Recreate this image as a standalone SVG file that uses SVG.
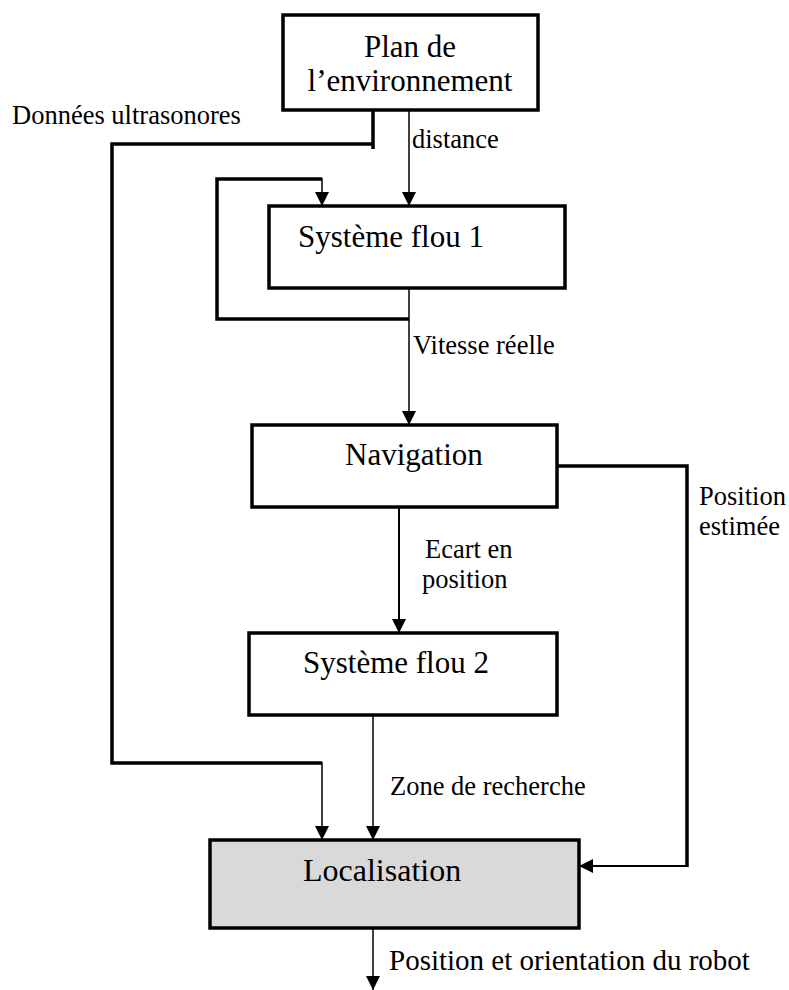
<svg xmlns="http://www.w3.org/2000/svg" width="789" height="990" viewBox="0 0 789 990">
  <style>
    text { font-family: "Liberation Serif", "Times New Roman", serif; fill: #000; }
    .title { font-size: 31px; }
    .label { font-size: 26.5px; }
    .box { fill: #fff; stroke: #000; stroke-width: 3.5; }
    .box.grey { fill: #d9d9d9; }
    .thick { fill: none; stroke: #000; stroke-width: 3.5; }
    .mid { fill: none; stroke: #000; stroke-width: 2; }
    .thin { fill: none; stroke: #000; stroke-width: 1.5; }
  </style>
  <defs>
    <marker id="arrow" markerUnits="userSpaceOnUse" markerWidth="14" markerHeight="14" refX="14" refY="7" orient="auto">
      <path d="M0,0 L14,7 L0,14 z" fill="#000"/>
    </marker>
  </defs>

  <!-- connectors -->
  <g id="connectors">
    <!-- ultrasonic data path to localisation -->
    <path class="thick" d="M373,110 V149"/>
    <path class="thick" d="M374,144 H112 V763 H322"/>
    <path class="thin" d="M322,762 V840" marker-end="url(#arrow)"/>
    <!-- distance -->
    <path class="thin" d="M409,110 V206" marker-end="url(#arrow)"/>
    <!-- feedback loop around fuzzy system 1 -->
    <path class="thick" d="M409,319 H217 V179 H322"/>
    <path class="thin" d="M322,178 V206" marker-end="url(#arrow)"/>
    <!-- real speed -->
    <path class="thin" d="M409,288 V425" marker-end="url(#arrow)"/>
    <!-- position error -->
    <path class="mid" d="M399,507 V633" marker-end="url(#arrow)"/>
    <!-- estimated position -->
    <path class="thick" d="M557,466 H687 V867"/>
    <path class="mid" d="M688,866 H579" marker-end="url(#arrow)"/>
    <!-- search zone -->
    <path class="thin" d="M373,715 V840" marker-end="url(#arrow)"/>
    <!-- output -->
    <path class="thin" d="M373,928 V990" marker-end="url(#arrow)"/>
  </g>

  <!-- connector labels -->
  <g id="labels">
    <text class="label" x="12" y="124">Données ultrasonores</text>
    <text class="label" x="412" y="148">distance</text>
    <text class="label" x="413" y="354">Vitesse réelle</text>
    <text class="label" x="425" y="558">Ecart en</text>
    <text class="label" x="422" y="588">position</text>
    <text class="label" x="699" y="505">Position</text>
    <text class="label" x="699" y="535">estimée</text>
    <text class="label" x="390" y="795">Zone de recherche</text>
    <text class="label" x="389" y="970" style="font-size:29px">Position et orientation du robot</text>
  </g>

  <g id="plan">
    <rect class="box" x="283" y="15" width="255" height="95"/>
    <text class="title" x="410" y="57" text-anchor="middle">Plan de</text>
    <text class="title" x="410" y="91" text-anchor="middle">l’environnement</text>
  </g>

  <g id="flou1">
    <rect class="box" x="269" y="206" width="296" height="82"/>
    <text class="title" x="298" y="247">Système flou 1</text>
  </g>

  <g id="navigation">
    <rect class="box" x="252" y="425" width="305" height="82"/>
    <text class="title" x="345" y="465">Navigation</text>
  </g>

  <g id="flou2">
    <rect class="box" x="249" y="633" width="308" height="82"/>
    <text class="title" x="303" y="673">Système flou 2</text>
  </g>

  <g id="localisation">
    <rect class="box grey" x="210" y="840" width="369" height="88"/>
    <text class="title" x="303" y="881" style="font-size:32px">Localisation</text>
  </g>
</svg>
